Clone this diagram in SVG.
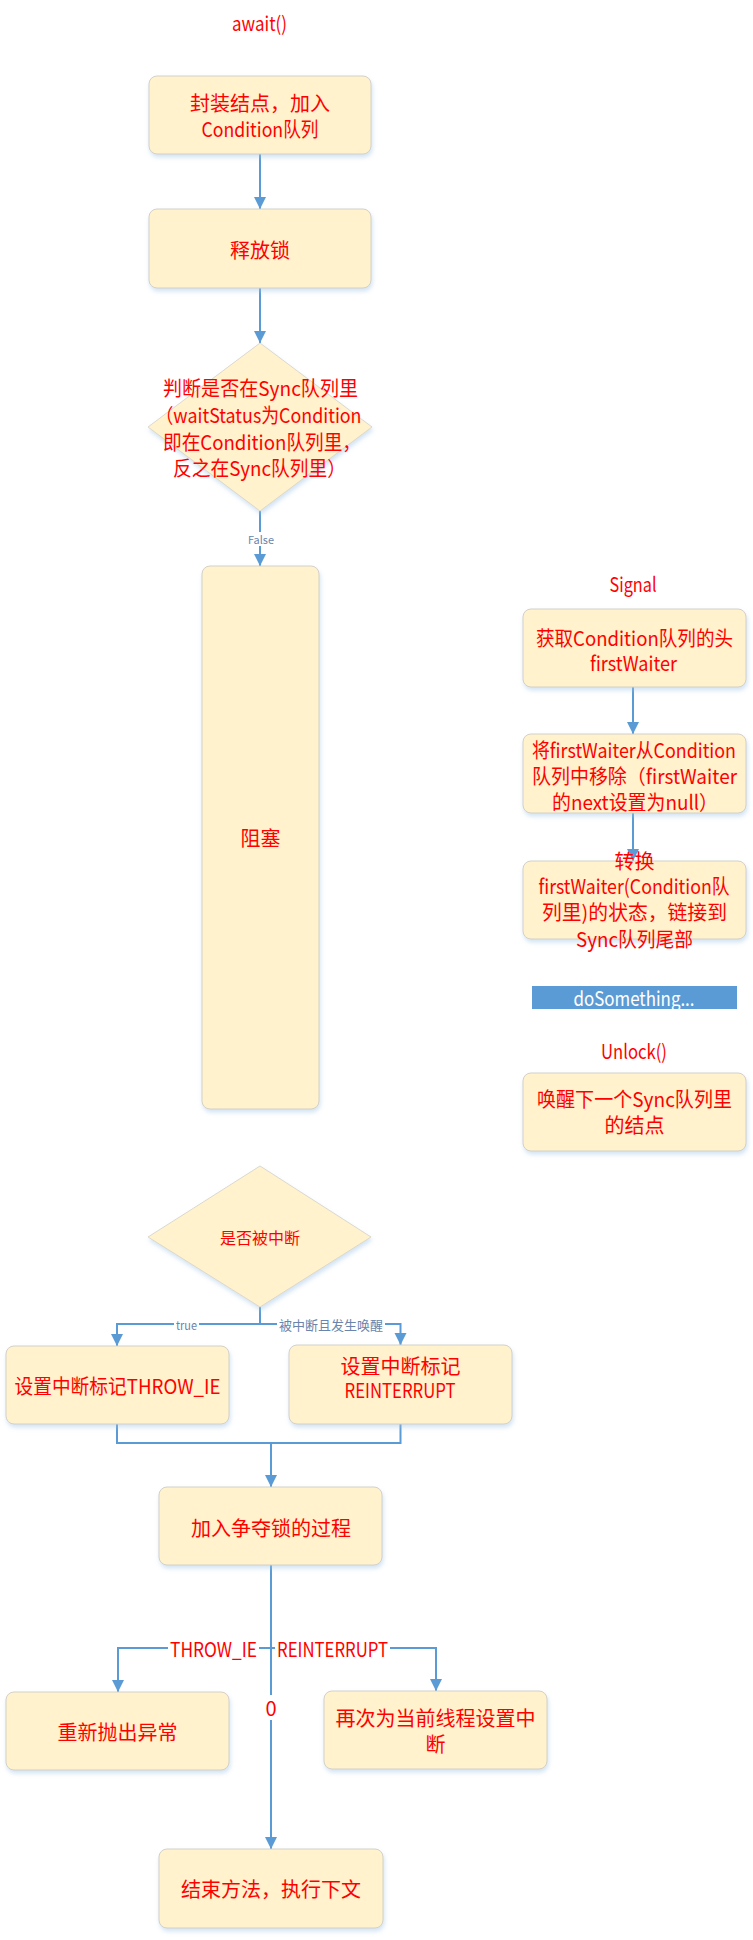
<svg xmlns="http://www.w3.org/2000/svg" width="753" height="1940" viewBox="0 0 753 1940">
<style>
text{font-family:"Noto Sans CJK SC","Noto Sans",sans-serif;text-anchor:middle;dominant-baseline:central}
.t{font-size:20px;fill:#FF0000}
.s{font-size:16px;fill:#FF0000}
.lb{font-size:12px;fill:#6A84AC}
.box{fill:#FFF2CC;stroke:#D3D0C8;stroke-width:1;filter:url(#sh)}
.dia{fill:#FFF2CC;stroke:#DCD8CC;stroke-width:1;filter:url(#sh)}
.c{fill:none;stroke:#5B9BD5;stroke-width:2}
.ca{fill:none;stroke:#5B9BD5;stroke-width:2;marker-end:url(#ah)}
.bg{fill:#FFFFFF}
</style>
<defs>
<filter id="sh" x="-10%" y="-10%" width="120%" height="130%">
<feDropShadow dx="1" dy="3" stdDeviation="2" flood-color="#9DC3E6" flood-opacity="0.45"/>
</filter>
<marker id="ah" markerUnits="userSpaceOnUse" markerWidth="14" markerHeight="14" refX="12" refY="6" orient="auto">
<path d="M0,0 L12,6 L0,12 Z" fill="#5B9BD5"/>
</marker>
</defs>
<rect width="753" height="1940" fill="#FFFFFF"/>

<g id="connectors">
<path class="ca" d="M260,154 V209"/>
<path class="ca" d="M260,288 V343"/>
<path class="ca" d="M260,511 V566"/>
<path class="ca" d="M260,1307 V1324 H117 V1346"/>
<path class="ca" d="M260,1324 H400.5 V1345"/>
<path class="c" d="M117,1424 V1443 H400.5 V1424"/>
<path class="ca" d="M271,1443 V1487"/>
<path class="ca" d="M271,1565 V1849"/>
<path class="ca" d="M271,1648 H118 V1692"/>
<path class="ca" d="M271,1648 H436 V1691"/>
<path class="ca" d="M633,687 V734"/>
<path class="ca" d="M633,813 V861"/>
<rect class="bg" x="246" y="532" width="29" height="14"/>
<text class="lb" x="261" y="539" style="font-size:11px" textLength="26" lengthAdjust="spacingAndGlyphs">False</text>
<rect class="bg" x="174" y="1317" width="25" height="14"/>
<text class="lb" x="186.5" y="1324" textLength="21" lengthAdjust="spacingAndGlyphs">true</text>
<rect class="bg" x="277" y="1316" width="108" height="16"/>
<text class="lb" x="331" y="1324" style="font-size:13px">被中断且发生唤醒</text>
<rect class="bg" x="168" y="1636" width="91" height="24"/>
<text class="t" x="213.5" y="1648" textLength="87" lengthAdjust="spacingAndGlyphs">THROW_IE</text>
<rect class="bg" x="275" y="1636" width="115" height="24"/>
<text class="t" x="332.5" y="1648" textLength="111" lengthAdjust="spacingAndGlyphs">REINTERRUPT</text>
<rect class="bg" x="263" y="1695" width="16" height="25"/>
<text class="t" x="271" y="1707">0</text>
</g>

<g id="title-await"><text class="t" x="259.5" y="22" textLength="55" lengthAdjust="spacingAndGlyphs">await()</text></g>

<g id="n-wrap">
<rect class="box" x="149" y="76" width="222" height="78" rx="8"/>
<text class="t" x="260" y="102">封装结点，加入</text>
<text class="t" x="260" y="128" textLength="117" lengthAdjust="spacingAndGlyphs">Condition队列</text>
</g>

<g id="n-release">
<rect class="box" x="149" y="209" width="222" height="79" rx="8"/>
<text class="t" x="260" y="249">释放锁</text>
</g>

<g id="n-insync">
<polygon class="dia" points="260,343 372,427 260,511 148,427"/>
<text class="t" x="260.5" y="387" textLength="195" lengthAdjust="spacingAndGlyphs">判断是否在Sync队列里</text>
<text class="t" x="258.5" y="414" textLength="206" lengthAdjust="spacingAndGlyphs">（waitStatus为Condition</text>
<text class="t" x="262" y="441" textLength="198" lengthAdjust="spacingAndGlyphs">即在Condition队列里，</text>
<text class="t" x="259.5" y="467" textLength="173" lengthAdjust="spacingAndGlyphs">反之在Sync队列里）</text>
</g>

<g id="n-block">
<rect class="box" x="202" y="566" width="117" height="543" rx="8"/>
<text class="t" x="260.5" y="837">阻塞</text>
</g>

<g id="n-interrupted">
<polygon class="dia" points="260,1166 371,1237 260,1307 148,1237"/>
<text class="s" x="260" y="1237">是否被中断</text>
</g>

<g id="n-throwie">
<rect class="box" x="6" y="1346" width="223" height="78" rx="8"/>
<text class="t" x="117.5" y="1385" textLength="206" lengthAdjust="spacingAndGlyphs">设置中断标记THROW_IE</text>
</g>

<g id="n-reinterrupt">
<rect class="box" x="289" y="1345" width="223" height="79" rx="8"/>
<text class="t" x="400.5" y="1365">设置中断标记</text>
<text class="t" x="400" y="1389" textLength="111" lengthAdjust="spacingAndGlyphs">REINTERRUPT</text>
</g>

<g id="n-acquire">
<rect class="box" x="159" y="1487" width="223" height="78" rx="8"/>
<text class="t" x="271" y="1527">加入争夺锁的过程</text>
</g>

<g id="n-rethrow">
<rect class="box" x="6" y="1692" width="223" height="78" rx="8"/>
<text class="t" x="117.5" y="1731">重新抛出异常</text>
</g>

<g id="n-selfinterrupt">
<rect class="box" x="324" y="1691" width="223" height="78" rx="8"/>
<text class="t" x="435.5" y="1717">再次为当前线程设置中</text>
<text class="t" x="435.5" y="1743">断</text>
</g>

<g id="n-end">
<rect class="box" x="159" y="1849" width="224" height="79" rx="8"/>
<text class="t" x="271" y="1888">结束方法，执行下文</text>
</g>

<g id="title-signal"><text class="t" x="633" y="583" textLength="47" lengthAdjust="spacingAndGlyphs">Signal</text></g>

<g id="n-gethead">
<rect class="box" x="523" y="609" width="223" height="78" rx="8"/>
<text class="t" x="634.5" y="637" textLength="197" lengthAdjust="spacingAndGlyphs">获取Condition队列的头</text>
<text class="t" x="633.5" y="662" textLength="87" lengthAdjust="spacingAndGlyphs">firstWaiter</text>
</g>

<g id="n-remove">
<rect class="box" x="523" y="734" width="223" height="79" rx="8"/>
<text class="t" x="634" y="749" textLength="204" lengthAdjust="spacingAndGlyphs">将firstWaiter从Condition</text>
<text class="t" x="634.5" y="775" textLength="205" lengthAdjust="spacingAndGlyphs">队列中移除（firstWaiter</text>
<text class="t" x="635" y="801" textLength="166" lengthAdjust="spacingAndGlyphs">的next设置为null）</text>
</g>

<g id="n-transfer">
<rect class="box" x="523" y="861" width="223" height="78" rx="8"/>
<text class="t" x="634.5" y="860">转换</text>
<text class="t" x="634" y="885" textLength="191" lengthAdjust="spacingAndGlyphs">firstWaiter(Condition队</text>
<text class="t" x="634.5" y="911" textLength="185" lengthAdjust="spacingAndGlyphs">列里)的状态，链接到</text>
<text class="t" x="634.5" y="938" textLength="117" lengthAdjust="spacingAndGlyphs">Sync队列尾部</text>
</g>

<g id="n-dosomething">
<rect x="532" y="986" width="205" height="23" fill="#5B9BD5"/>
<text class="t" x="634" y="997" style="fill:#FFFFFF" textLength="121" lengthAdjust="spacingAndGlyphs">doSomething...</text>
</g>

<g id="title-unlock"><text class="t" x="634" y="1050" textLength="66" lengthAdjust="spacingAndGlyphs">Unlock()</text></g>

<g id="n-wake">
<rect class="box" x="523" y="1073" width="223" height="78" rx="8"/>
<text class="t" x="634.5" y="1098" textLength="195" lengthAdjust="spacingAndGlyphs">唤醒下一个Sync队列里</text>
<text class="t" x="634.5" y="1124">的结点</text>
</g>
</svg>
